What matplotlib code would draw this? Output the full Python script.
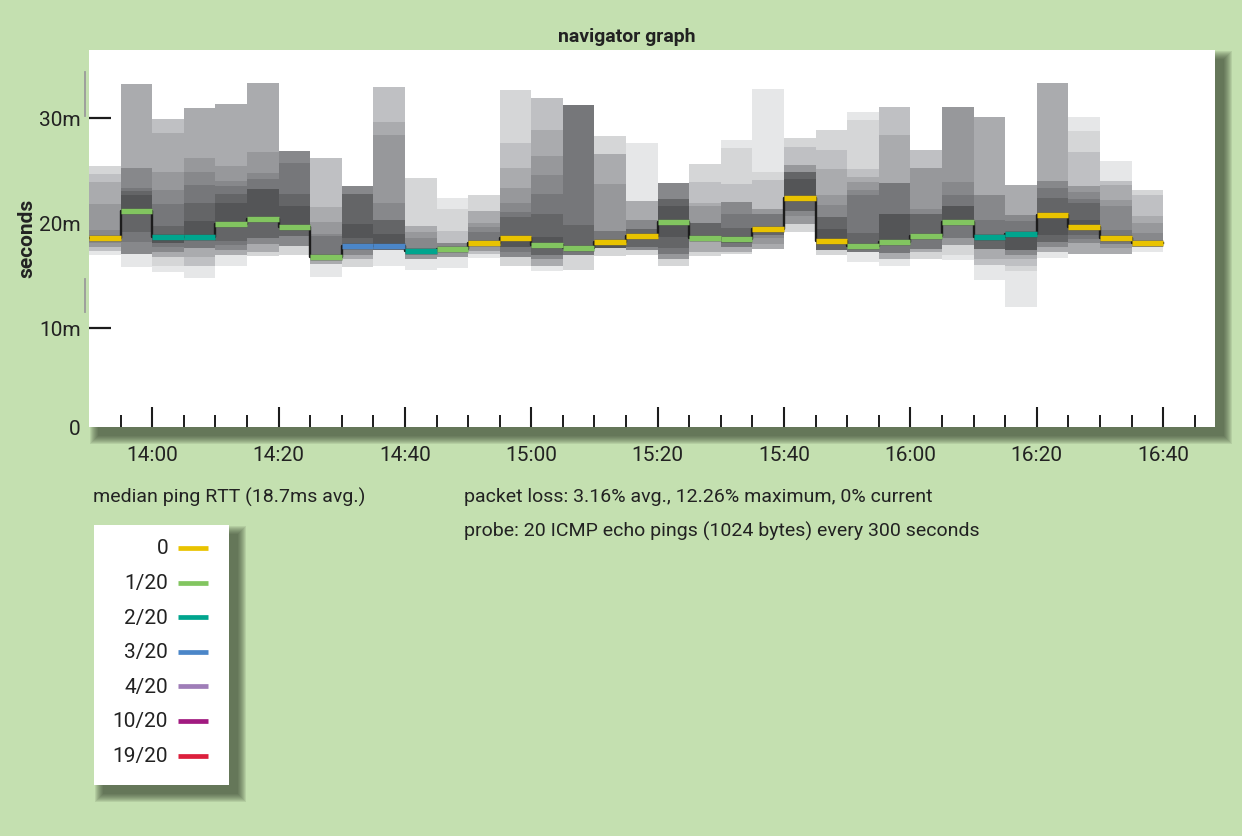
import numpy as np
import matplotlib
matplotlib.use('Agg')
import matplotlib.pyplot as plt
from matplotlib.patches import Rectangle
from matplotlib.lines import Line2D
import matplotlib.patheffects as pe

plt.rcParams['font.family'] = ['Roboto', 'DejaVu Sans']

# --- data (5 minute bins from 13:50) ---
first_bin = 13 * 60 + 50
bin_minutes = 5

# smoke bands per bin, edges bottom -> top (ms)
edges = [
    [16.9, 17.3, 17.7, 18.1, 19.3, 21.8, 23.9, 24.6, 25.4],
    [15.8, 17.0, 18.2, 19.1, 21.1, 22.6, 23.0, 23.3, 25.2, 33.2],
    [15.3, 15.9, 16.7, 17.2, 17.7, 18.1, 18.8, 19.7, 21.8, 23.1, 24.8, 28.5, 29.9],
    [14.7, 15.9, 16.7, 17.6, 18.6, 20.2, 21.9, 23.6, 24.8, 26.2, 30.9],
    [15.9, 16.9, 17.4, 17.9, 18.3, 19.9, 21.9, 22.7, 23.5, 24.0, 25.4, 31.3],
    [16.8, 17.2, 18.0, 18.5, 20.4, 23.2, 24.2, 24.7, 26.7, 33.3],
    [16.9, 17.8, 18.7, 19.6, 21.6, 22.7, 25.7, 26.8],
    [14.8, 16.1, 16.7, 18.7, 18.9, 20.1, 21.5, 26.2],
    [15.8, 16.5, 16.9, 17.8, 18.5, 19.9, 22.7, 23.5],
    [15.9, 17.4, 17.8, 18.9, 20.3, 21.9, 28.4, 29.6, 32.9],
    [15.5, 16.5, 17.0, 18.5, 19.1, 19.7, 24.3],
    [15.7, 16.7, 17.5, 18.1, 19.2, 21.3, 22.4],
    [16.6, 17.0, 17.3, 17.8, 19.1, 19.6, 20.0, 21.1, 22.6],
    [15.9, 16.7, 17.2, 17.7, 18.5, 20.5, 21.0, 21.9, 23.3, 25.2, 27.6, 32.6],
    [15.4, 15.9, 16.5, 16.9, 17.9, 18.6, 20.8, 22.7, 24.5, 26.4, 28.8, 31.9],
    [15.5, 16.9, 17.6, 19.8, 31.2],
    [16.8, 17.6, 18.2, 19.2, 23.7, 26.5, 28.3],
    [16.9, 17.4, 17.7, 19.4, 20.3, 22.1, 27.6],
    [15.9, 16.5, 17.0, 17.6, 18.6, 21.6, 22.3, 23.8],
    [16.8, 17.2, 18.5, 20.0, 21.6, 21.9, 23.9, 25.6],
    [17.0, 17.2, 17.7, 18.1, 19.5, 20.8, 22.0, 23.7, 27.1, 27.9],
    [17.5, 18.0, 18.5, 18.8, 19.6, 20.8, 21.3, 24.1, 24.8, 32.7],
    [19.1, 19.9, 20.6, 21.1, 22.4, 24.2, 24.8, 25.5, 27.2, 28.1],
    [16.9, 17.4, 18.3, 19.4, 20.5, 21.7, 22.6, 25.1, 26.9, 28.8],
    [16.3, 17.2, 17.8, 19.0, 22.6, 23.1, 23.9, 24.4, 25.1, 29.8, 30.5],
    [15.9, 16.5, 17.1, 18.2, 20.8, 23.8, 28.4, 31.0],
    [16.5, 17.2, 17.5, 18.7, 20.8, 21.3, 25.2, 26.9],
    [16.4, 16.9, 17.9, 18.5, 20.1, 21.6, 22.6, 23.9, 31.0],
    [14.5, 16.0, 16.5, 17.5, 18.6, 20.3, 22.6, 30.1],
    [12.0, 15.4, 15.9, 16.5, 16.9, 17.4, 18.9, 20.2, 20.7, 23.6],
    [16.6, 17.2, 17.7, 18.2, 18.8, 20.7, 22.4, 23.3, 24.0, 33.3],
    [17.0, 18.1, 18.4, 18.8, 19.6, 20.3, 21.9, 22.3, 22.9, 23.5, 26.7, 28.7, 30.1],
    [17.0, 17.6, 18.0, 19.3, 21.6, 22.2, 23.6, 24.0, 25.9],
    [17.2, 17.7, 18.1, 19.0, 20.0, 20.6, 22.6, 23.1],
]
# density level of each band (0 = sparse/light .. 8 = dense/dark)
levels = [
    [0, 2, 4, 5, 4, 3, 2, 1],
    [0, 5, 6, 7, 8, 7, 6, 5, 3],
    [0, 1, 3, 5, 6, 8, 7, 6, 5, 4, 3, 2],
    [0, 2, 3, 6, 8, 7, 6, 5, 4, 3],
    [0, 3, 5, 6, 7, 8, 7, 6, 5, 4, 3],
    [1, 3, 5, 7, 8, 6, 5, 4, 3],
    [1, 5, 7, 8, 7, 6, 5],
    [0, 3, 6, 5, 4, 3, 2],
    [1, 3, 5, 7, 8, 7, 5],
    [0, 6, 8, 7, 5, 4, 3, 2],
    [0, 4, 5, 4, 3, 1],
    [0, 4, 5, 2, 1, 0],
    [0, 2, 4, 6, 5, 4, 3, 1],
    [1, 5, 6, 8, 7, 6, 5, 4, 3, 2, 1],
    [0, 3, 5, 7, 8, 7, 6, 5, 4, 3, 2],
    [1, 6, 7, 6],
    [1, 8, 6, 4, 3, 1],
    [1, 5, 7, 5, 3, 0],
    [1, 4, 6, 7, 8, 7, 5],
    [1, 3, 7, 4, 3, 2, 1],
    [1, 3, 6, 7, 6, 5, 2, 1, 0],
    [3, 4, 5, 7, 6, 4, 2, 1, 0],
    [1, 4, 5, 7, 8, 7, 4, 2, 1],
    [1, 7, 8, 7, 5, 4, 3, 2, 1],
    [0, 6, 7, 6, 5, 4, 3, 2, 1, 0],
    [0, 3, 6, 8, 6, 3, 2],
    [1, 3, 6, 7, 5, 4, 2],
    [0, 1, 4, 6, 8, 6, 5, 4],
    [0, 2, 3, 7, 6, 5, 3],
    [0, 1, 2, 3, 5, 8, 6, 5, 3],
    [0, 3, 5, 7, 8, 7, 6, 5, 3],
    [3, 5, 6, 7, 8, 7, 6, 5, 4, 2, 1, 0],
    [3, 4, 6, 5, 4, 3, 2, 0],
    [0, 4, 5, 4, 3, 2, 1],
]
medians = [18.5, 21.1, 18.6, 18.6, 19.9, 20.35, 19.6, 16.7, 17.8, 17.8,
           17.3, 17.5, 18.1, 18.5, 17.9, 17.6, 18.2, 18.7, 20.1, 18.5,
           18.4, 19.4, 22.4, 18.3, 17.8, 18.2, 18.7, 20.1, 18.6, 18.9,
           20.7, 19.6, 18.5, 18.1]
lost = [0, 1, 2, 2, 1, 1, 1, 1, 3, 3, 2, 1, 0, 0, 1, 1, 0, 0, 1, 1,
        1, 0, 0, 0, 1, 1, 1, 1, 2, 2, 0, 0, 0, 0]

loss_steps = [0, 1, 2, 3, 4, 10, 19]
loss_labels = ['0', '1/20', '2/20', '3/20', '4/20', '10/20', '19/20']
loss_colors = ['#e9c300', '#82c560', '#00a58e', '#4b86c8', '#9f7db8', '#a11a80', '#dc1f3c']

greys = ['#e6e7e8', '#d5d6d7', '#bfc0c3', '#aaabae', '#97989b',
         '#87888b', '#76777a', '#646567', '#545557']

bg = '#c4e0b0'
ink = '#222222'
W, H = 1242, 837

fig = plt.figure(figsize=(W / 100, H / 100), dpi=100, facecolor=bg)


def fx(x):
    return x / W


def fy(y):
    return 1 - y / H


def drop_shadow(x0, y0, x1, y1, off=9, blur=8):
    # soft shadow: stacked translucent rectangles, only visible right and below
    for k in range(blur, -1, -1):
        fig.add_artist(Rectangle((fx(x0 + off - k), fy(y1 + off + k)),
                                 (x1 - x0 + 2 * k) / W, (y1 - y0 + 2 * k) / H,
                                 transform=fig.transFigure, facecolor='#35432f',
                                 alpha=0.11, lw=0, zorder=1))


# plot area
px0, py0, px1, py1 = 89, 51, 1215, 428
drop_shadow(px0, py0, px1, py1)
ax = fig.add_axes([fx(px0), fy(py1), (px1 - px0) / W, (py1 - py0) / H])
ax.set_zorder(2)
ax.set_facecolor('white')
for s in ax.spines.values():
    s.set_visible(False)

starts = first_bin + bin_minutes * np.arange(len(medians))

bx, bb, bh, bc = [], [], [], []
for t, e, lv in zip(starts, edges, levels):
    for lo, hi, l in zip(e[:-1], e[1:], lv):
        bx.append(t)
        bb.append(lo)
        bh.append(hi - lo)
        bc.append(greys[l])
ax.bar(bx, bh, bottom=bb, width=bin_minutes, align='edge', color=bc,
       linewidth=0, zorder=2)

# median: black step connectors + coloured loss segments
ax.step(np.append(starts, starts[-1] + bin_minutes), np.append(medians, medians[-1]),
        where='post', color='#1c1c1c', lw=1.7, zorder=3)
seg_cols = [loss_colors[loss_steps.index(n)] for n in lost]
ax.hlines(medians, starts, starts + bin_minutes, colors=seg_cols, lw=3.9,
          capstyle='butt', zorder=4,
          path_effects=[pe.Stroke(linewidth=4.7, foreground='#444444', alpha=0.45), pe.Normal()])

ylo, yhi = 0.54, 36.45
ax.set_ylim(ylo, yhi)
ax.set_xlim(first_bin, first_bin + 178.2)

ax.set_axisbelow(True)
ax.set_yticks([ylo, 10, 20, 30], ['0', '10m', '20m', '30m'])
ax.tick_params(axis='y', direction='in', length=15.8, width=1.6, color='#1c1c1c',
               pad=6, labelsize=15, labelcolor=ink)
ax.yaxis.get_major_ticks()[0].tick1line.set_visible(False)

major = np.arange(14 * 60, 16 * 60 + 41, 20)
minor = [m for m in np.arange(first_bin + 5, 16 * 60 + 46, 5) if m not in major]
ax.set_xticks(major, [f'{m // 60}:{m % 60:02d}' for m in major])
ax.set_xticks(minor, minor=True)
ax.tick_params(axis='x', which='major', direction='in', length=14.4, width=1.5,
               color='#1c1c1c', pad=13, labelsize=15, labelcolor=ink)
ax.tick_params(axis='x', which='minor', direction='in', length=8.6, width=1.4,
               color='#1c1c1c')

# stray scale marks left of the plot
for ya, yb in [(73, 117), (280, 313)]:
    fig.add_artist(Line2D([fx(85), fx(85)], [fy(ya), fy(yb)], color='#9a9a9a',
                          lw=1.3, zorder=1))

fig.text(fx(627), fy(37), 'navigator graph', ha='center', va='center',
         fontsize=14, fontweight='bold', color=ink)
fig.text(fx(27), fy(238), 'seconds', ha='center', va='center', rotation=90,
         fontsize=15, fontweight='bold', color=ink)

fig.text(fx(93), fy(497), 'median ping RTT (18.7ms avg.)', ha='left', va='center',
         fontsize=14, color=ink)
fig.text(fx(464), fy(497), 'packet loss: 3.16% avg., 12.26% maximum, 0% current',
         ha='left', va='center', fontsize=14, color=ink)
fig.text(fx(464), fy(531), 'probe: 20 ICMP echo pings (1024 bytes) every 300 seconds',
         ha='left', va='center', fontsize=14, color=ink)

# loss colour legend
lx0, ly0, lx1, ly1 = 94, 526, 229, 786
drop_shadow(lx0, ly0, lx1, ly1)
fig.add_artist(Rectangle((fx(lx0), fy(ly1)), (lx1 - lx0) / W, (ly1 - ly0) / H,
                         transform=fig.transFigure, facecolor='white', lw=0, zorder=2))
for k, (lab, col) in enumerate(zip(loss_labels, loss_colors)):
    yy = 549 + 34.6 * k
    fig.text(fx(168), fy(yy), lab, ha='right', va='center', fontsize=15,
             color=ink, zorder=3)
    fig.add_artist(Line2D([fx(178), fx(207.5)], [fy(yy), fy(yy)], color=col,
                          lw=3.4, solid_capstyle='butt', zorder=3))

fig.savefig('out.png', dpi=100, facecolor=bg)
